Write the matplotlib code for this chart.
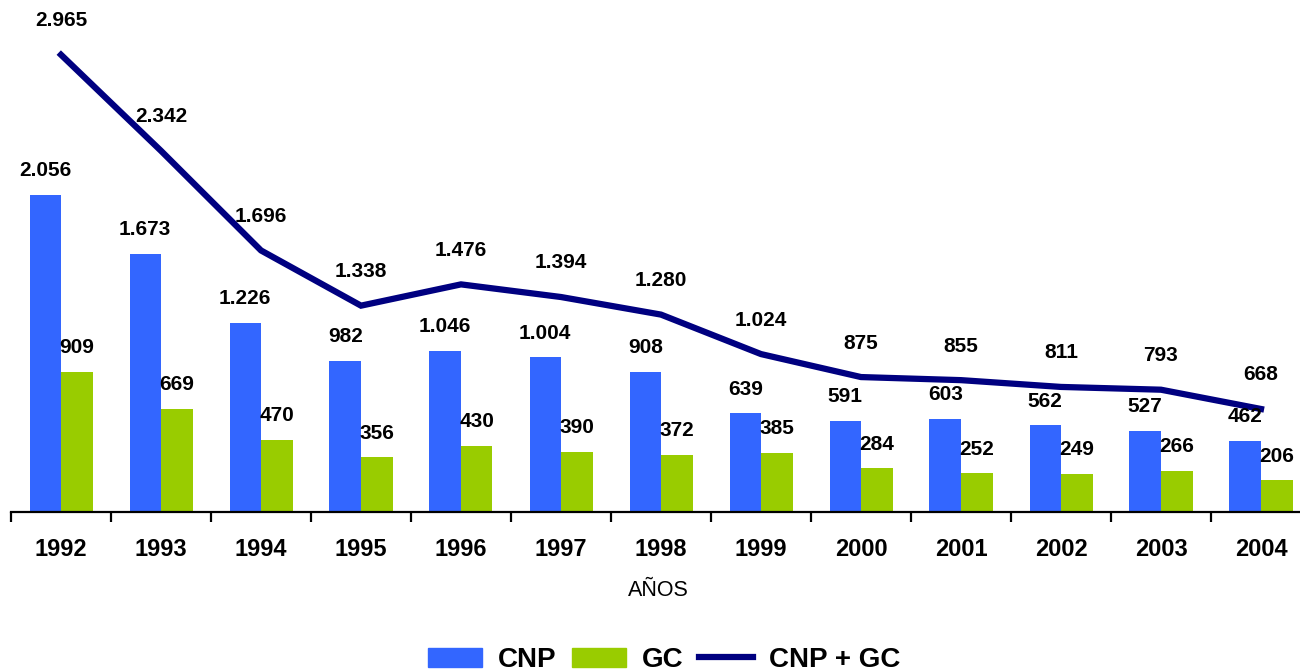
import matplotlib
matplotlib.use("Agg")
import matplotlib.pyplot as plt
import numpy as np
from matplotlib.patches import Patch
from matplotlib.lines import Line2D

plt.rcParams['font.family'] = ['Liberation Sans', 'DejaVu Sans']

years = ['1992', '1993', '1994', '1995', '1996', '1997', '1998', '1999',
         '2000', '2001', '2002', '2003', '2004']
cnp = [2056, 1673, 1226, 982, 1046, 1004, 908, 639, 591, 603, 562, 527, 462]
gc = [909, 669, 470, 356, 430, 390, 372, 385, 284, 252, 249, 266, 206]
total = [2965, 2342, 1696, 1338, 1476, 1394, 1280, 1024, 875, 855, 811, 793, 668]

c_cnp = '#3366FF'
c_gc = '#99CC00'
c_line = '#000080'

def fmt(v):
    return f"{v:,}".replace(',', '.')

W, H = 1300, 671
fig = plt.figure(figsize=(W / 100, H / 100), dpi=100)
ax = fig.add_axes([11 / W, (H - 512) / H, 1300 / W, 512 / H])

x = np.arange(len(years))
bw = 0.315
ax.bar(x - bw / 2, cnp, bw, color=c_cnp, zorder=2)
ax.bar(x + bw / 2, gc, bw, color=c_gc, zorder=2)
ax.plot(x, total, color=c_line, lw=4.5, zorder=3, solid_joinstyle='miter')

for i in range(len(years)):
    ax.annotate(fmt(cnp[i]), (x[i] - bw / 2, cnp[i]), xytext=(0, 17.3),
                textcoords='offset points', ha='center', va='center',
                fontsize=15, fontweight='bold', zorder=5)
    ax.annotate(fmt(gc[i]), (x[i] + bw / 2, gc[i]), xytext=(0, 17.3),
                textcoords='offset points', ha='center', va='center',
                fontsize=15, fontweight='bold', zorder=5)
    ax.annotate(fmt(total[i]), (x[i], total[i]), xytext=(0, 24.5),
                textcoords='offset points', ha='center', va='center',
                fontsize=15, fontweight='bold', zorder=5)

ax.set_xlim(-0.5, len(years) - 0.5)
ax.set_ylim(0, 3320)
for s in ['top', 'right', 'left']:
    ax.spines[s].set_visible(False)
ax.spines['bottom'].set_linewidth(1.6)
ax.set_yticks([])
ax.set_xticks(np.arange(-0.5, len(years), 1.0))
ax.set_xticklabels([])
ax.tick_params(axis='x', which='major', length=7, width=1.6, direction='out')
ax.set_xticks(x, minor=True)
ax.set_xticklabels(years, minor=True, fontsize=17, fontweight='bold')
ax.tick_params(axis='x', which='minor', length=0, pad=19)

fig.text(658 / W, 1 - 590 / H, 'AÑOS', ha='center', va='center', fontsize=15.5)

handles = [Patch(color=c_cnp), Patch(color=c_gc), Line2D([0], [0], color=c_line, lw=4.5)]
fig.legend(handles, ['CNP', 'GC', 'CNP + GC'], loc='center', ncol=3,
           bbox_to_anchor=(664 / W, 1 - 660 / H), frameon=False,
           prop={'size': 20, 'weight': 'bold'}, handlelength=1.95,
           handletextpad=0.58, columnspacing=0.54, handleheight=0.65,
           borderpad=0, borderaxespad=0)

fig.savefig('out.png', dpi=100)
